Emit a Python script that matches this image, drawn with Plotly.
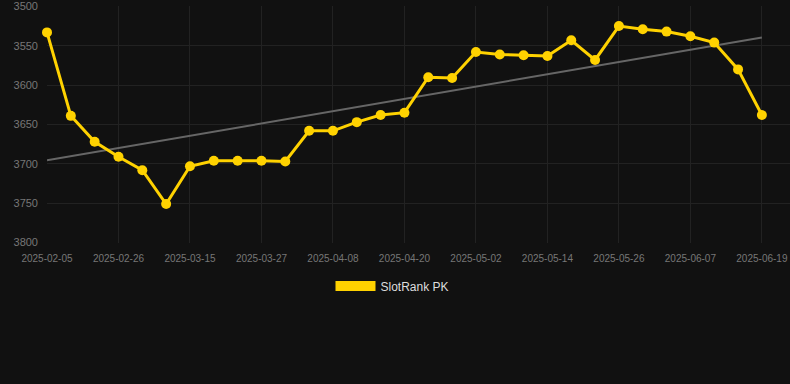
import numpy as np
import plotly.graph_objects as go

dates = ["2025-02-05", "2025-02-12", "2025-02-19", "2025-02-26", "2025-03-03", "2025-03-09",
         "2025-03-15", "2025-03-19", "2025-03-23", "2025-03-27", "2025-03-31", "2025-04-04",
         "2025-04-08", "2025-04-12", "2025-04-16", "2025-04-20", "2025-04-24", "2025-04-28",
         "2025-05-02", "2025-05-06", "2025-05-10", "2025-05-14", "2025-05-18", "2025-05-22",
         "2025-05-26", "2025-05-30", "2025-06-03", "2025-06-07", "2025-06-11", "2025-06-15",
         "2025-06-19"]
rank = [3533, 3639, 3672, 3691, 3708, 3751, 3703, 3696, 3696, 3696, 3697, 3658,
        3658, 3647, 3638, 3635, 3590, 3591, 3558, 3561, 3562, 3563, 3543, 3568,
        3525, 3529, 3532, 3538, 3546, 3580, 3638]
series_name = "SlotRank PK"
y_ticks = [3500, 3550, 3600, 3650, 3700, 3750, 3800]

idx = np.arange(len(dates))
slope, intercept = np.polyfit(idx, rank, 1)
trend = slope * idx + intercept

YELLOW = "#FFD200"
fig = go.Figure()
fig.add_trace(go.Scatter(x=dates, y=trend, mode="lines",
                         line=dict(color="#666666", width=2),
                         showlegend=False, hoverinfo="skip"))
fig.add_trace(go.Scatter(x=dates, y=rank, mode="lines+markers",
                         line=dict(color=YELLOW, width=3),
                         marker=dict(color=YELLOW, size=10),
                         cliponaxis=False, showlegend=False))
fig.add_trace(go.Scatter(x=[None], y=[None], mode="lines",
                         line=dict(color=YELLOW, width=11),
                         name=series_name, showlegend=True))

fig.update_layout(
    width=790, height=384,
    margin=dict(l=47, r=0, t=6, b=141),
    paper_bgcolor="#111111", plot_bgcolor="#111111",
    font=dict(family="Liberation Sans, Arial, sans-serif", color="#777777", size=11),
    legend=dict(orientation="h", x=0.465, xanchor="center", y=-0.12, yanchor="top",
                font=dict(color="#dddddd", size=12), itemwidth=40),
    xaxis=dict(type="category", range=[0, 31.18],
               tickvals=dates[::3], ticktext=dates[::3],
               showgrid=True, gridcolor="#222222", gridwidth=1,
               zeroline=False, showline=False, ticks="", tickfont=dict(size=10),
               ticklabelstandoff=8),
    yaxis=dict(range=[3800.5, 3499.5], tickvals=y_ticks,
               showgrid=True, gridcolor="#222222", gridwidth=1,
               zeroline=False, showline=False, ticks="", ticklabelstandoff=8,
               tickfont=dict(size=11)),
)
fig.write_html("out.html", config={"displayModeBar": False},
               post_script="document.body.style.margin='0';document.body.style.background='#111111';")
